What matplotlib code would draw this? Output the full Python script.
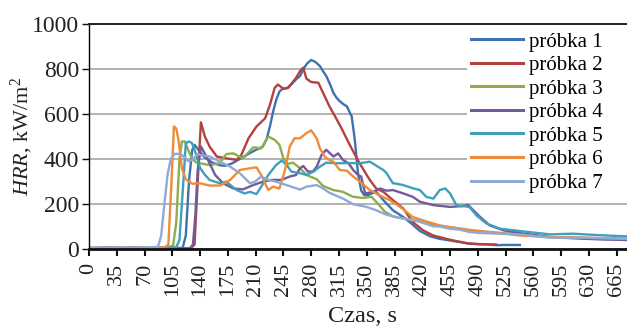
import matplotlib
matplotlib.use("Agg")
import matplotlib.pyplot as plt
from matplotlib.patches import Rectangle

plt.rcParams['font.family'] = ['Liberation Serif', 'DejaVu Serif']
plt.rcParams['mathtext.fontset'] = 'custom'
plt.rcParams['mathtext.rm'] = 'Liberation Serif'
plt.rcParams['mathtext.it'] = 'Liberation Serif:italic'

labels = ["próbka 1", "próbka 2", "próbka 3", "próbka 4", "próbka 5", "próbka 6", "próbka 7"]
colors = ["#3D72AE", "#B5413E", "#8EAD4C", "#735A9A", "#3EA0BB", "#EE8C3A", "#91A9D5"]

t1 = [0, 20, 40, 60, 80, 100, 118, 122, 126, 130, 133, 138, 145, 155, 165, 172, 180, 188, 195, 202,
      210, 219, 224, 228, 232, 236, 240, 244, 250, 256, 261, 266, 270, 275, 280, 285, 291, 295, 299, 304,
      308, 312, 316, 320, 325, 331, 335, 339, 343, 347, 352, 356, 362, 371, 383, 396, 404, 417, 430, 442,
      455, 467, 480, 500, 513, 525, 543]
v1 = [5, 3, 6, 5, 4, 3, 5, 60, 300, 440, 463, 440, 410, 385, 372, 370, 380, 396, 410, 425,
      440, 455, 490, 545, 610, 664, 700, 712, 716, 735, 754, 769, 799, 825, 840, 832, 813, 790, 769, 730,
      694, 672, 657, 645, 634, 590, 485, 336, 260, 239, 240, 247, 254, 217, 172, 142, 120, 80, 56, 45,
      38, 31, 23, 21, 17, 18, 18]

t2 = [0, 20, 40, 60, 80, 100, 120, 128, 133, 137, 141, 146, 152, 161, 173, 186, 192, 201, 211, 222,
      228, 234, 238, 245, 251, 261, 266, 270, 274, 280, 289, 297, 303, 310, 318, 329, 335, 341, 350, 354,
      362, 371, 383, 396, 408, 421, 434, 455, 476, 492, 513]
v2 = [3, 5, 4, 5, 3, 4, 3, 2, 20, 300, 563, 500, 455, 411, 403, 396, 418, 492, 544, 581,
      641, 716, 731, 712, 716, 761, 791, 806, 757, 742, 739, 679, 634, 590, 538, 460, 420, 381, 329, 306,
      269, 254, 217, 180, 120, 83, 60, 41, 26, 21, 20]

t3 = [0, 20, 40, 60, 80, 100, 106, 110, 114, 117, 121, 125, 130, 135, 140, 152, 165, 173, 182, 194,
      207, 217, 226, 234, 240, 245, 251, 257, 266, 274, 287, 295, 308, 320, 333, 345, 356, 364, 373, 383,
      392, 405, 417, 434, 455, 480, 501, 543, 581, 620, 650, 678]
v3 = [3, 5, 4, 6, 5, 8, 15, 120, 400, 478, 478, 440, 400, 385, 381, 373, 381, 422, 425, 403,
      452, 447, 500, 485, 463, 403, 378, 384, 359, 329, 310, 280, 262, 254, 232, 227, 232, 202, 165, 145,
      138, 132, 122, 105, 97, 83, 75, 65, 53, 50, 47, 45]

t4 = [0, 20, 40, 60, 80, 100, 120, 127, 131, 134, 137, 141, 148, 159, 169, 182, 194, 207, 219, 230,
      242, 253, 261, 266, 270, 276, 282, 287, 293, 299, 308, 314, 320, 327, 333, 339, 343, 348, 358, 367,
      375, 383, 396, 408, 417, 434, 455, 467, 478, 493, 505, 522, 543, 581, 620, 650, 678]
v4 = [3, 5, 4, 5, 3, 4, 3, 3, 20, 150, 350, 456, 410, 329, 292, 269, 265, 284, 299, 307,
      307, 322, 329, 359, 369, 344, 344, 366, 418, 441, 411, 425, 396, 381, 351, 329, 322, 247, 254, 269,
      259, 262, 247, 232, 210, 195, 187, 190, 195, 142, 105, 83, 71, 53, 46, 42, 40]

t5 = [0, 20, 40, 60, 80, 100, 110, 114, 118, 122, 126, 130, 135, 140, 146, 152, 165, 173, 186, 196,
      203, 211, 217, 226, 236, 243, 249, 255, 266, 274, 283, 291, 299, 312, 329, 341, 354, 364, 371, 375,
      383, 385, 396, 408, 417, 425, 434, 442, 449, 455, 463, 469, 474, 480, 488, 501, 518, 543, 555, 581,
      610, 640, 678]
v5 = [4, 6, 5, 3, 5, 6, 8, 40, 250, 470, 478, 470, 420, 360, 330, 307, 292, 299, 262, 247,
      254, 244, 277, 329, 374, 393, 374, 344, 337, 329, 344, 366, 384, 381, 382, 381, 388, 366, 351, 337,
      292, 292, 284, 270, 262, 232, 224, 262, 269, 247, 195, 190, 190, 185, 150, 113, 90, 80, 75, 65,
      68, 62, 56]

t6 = [0, 20, 40, 60, 80, 95, 100, 104, 107, 110, 113, 117, 122, 130, 140, 152, 165, 178, 190, 203,
      211, 217, 226, 232, 240, 247, 253, 259, 266, 274, 280, 287, 291, 297, 303, 308, 316, 325, 333, 343,
      354, 366, 379, 392, 400, 408, 421, 442, 459, 484, 518, 543, 581, 620, 650, 678]
v6 = [3, 5, 6, 4, 5, 6, 20, 300, 545, 535, 480, 360, 310, 290, 292, 282, 282, 307, 351, 359,
      363, 329, 262, 277, 269, 351, 455, 492, 492, 515, 527, 492, 447, 411, 396, 388, 351, 348, 322, 295,
      262, 239, 217, 187, 165, 142, 127, 105, 95, 83, 71, 60, 53, 50, 48, 47]

t7 = [0, 20, 40, 60, 80, 87, 91, 95, 99, 103, 108, 115, 120, 125, 130, 137, 140, 152, 165, 178,
      190, 203, 209, 217, 226, 236, 249, 266, 274, 287, 295, 303, 320, 333, 350, 362, 375, 392, 413, 434,
      442, 455, 467, 480, 493, 518, 543, 581, 620, 650, 678]
v7 = [8, 5, 7, 6, 8, 10, 60, 200, 330, 400, 423, 423, 410, 390, 395, 423, 418, 411, 388, 366,
      337, 292, 299, 322, 307, 299, 284, 264, 277, 284, 269, 250, 224, 199, 187, 172, 152, 138, 125, 101,
      100, 90, 86, 75, 71, 68, 65, 50, 50, 48, 45]

series_t = [t1, t2, t3, t4, t5, t6, t7]
series_v = [v1, v2, v3, v4, v5, v6, v7]

x_ticks = list(range(0, 666, 35))
y_ticks = [0, 200, 400, 600, 800, 1000]

W, H = 627, 329
fig = plt.figure(figsize=(W / 100, H / 100), dpi=100)
ax = fig.add_axes([89 / W, 80 / H, (W - 89) / W, 225 / H])

for t, v, c, lab in zip(series_t, series_v, colors, labels):
    ax.plot(t, v, color=c, lw=1.7, label=lab, zorder=2, solid_joinstyle='round')

ax.set_xlim(0, 678)
ax.set_ylim(0, 1000)
ax.set_xticks(x_ticks)
ax.set_xticklabels([str(x) for x in x_ticks], rotation=90, fontsize=16)
ax.set_yticks(y_ticks)
ax.set_yticklabels([str(y) for y in y_ticks], fontsize=17)
ax.set_axisbelow(True)
ax.yaxis.grid(True, color='#a6a6a6', lw=1.2)
ax.xaxis.grid(False)

ax.spines['right'].set_visible(False)
ax.spines['top'].set_color('#222222')
ax.spines['top'].set_linewidth(1.4)
ax.spines['left'].set_color('black')
ax.spines['left'].set_linewidth(1.0)
ax.spines['bottom'].set_color('#111111')
ax.spines['bottom'].set_linewidth(2.0)
ax.tick_params(axis='x', direction='out', length=5, width=1.5, pad=5, colors='#111111')
ax.tick_params(axis='y', direction='out', length=5, width=1.0, pad=2, colors='#111111')
for lab in ax.get_xticklabels() + ax.get_yticklabels():
    lab.set_color('#222222')

# white legend background box (hides gridlines behind legend)
ax.add_patch(Rectangle(((467 - 89) / (W - 89), (249 - 195) / 225),
                       1.0, (195 - 28) / 225, transform=ax.transAxes,
                       facecolor='white', edgecolor='none', zorder=1))

leg = ax.legend(loc='upper left', bbox_to_anchor=((471 - 89) / (W - 89), (249 - 32) / 225),
                frameon=False, fontsize=15, handlelength=2.5, handletextpad=0.3,
                labelspacing=0.19, borderpad=0, borderaxespad=0)
for line in leg.get_lines():
    line.set_linewidth(2.2)

ax.set_xlabel('Czas, s', fontsize=17.5, color='#222222')
ax.xaxis.set_label_coords((362 - 89) / (W - 89), (249 - 316) / 225)
ax.xaxis.label.set_va('center')
ax.set_ylabel(r'$\mathit{HRR}$, kW/m$^{2}$', fontsize=16, color='#222222')
ax.yaxis.set_label_coords((22 - 89) / (W - 89), 0.5)
ax.yaxis.label.set_va('center')

fig.savefig('out.png', dpi=100)
